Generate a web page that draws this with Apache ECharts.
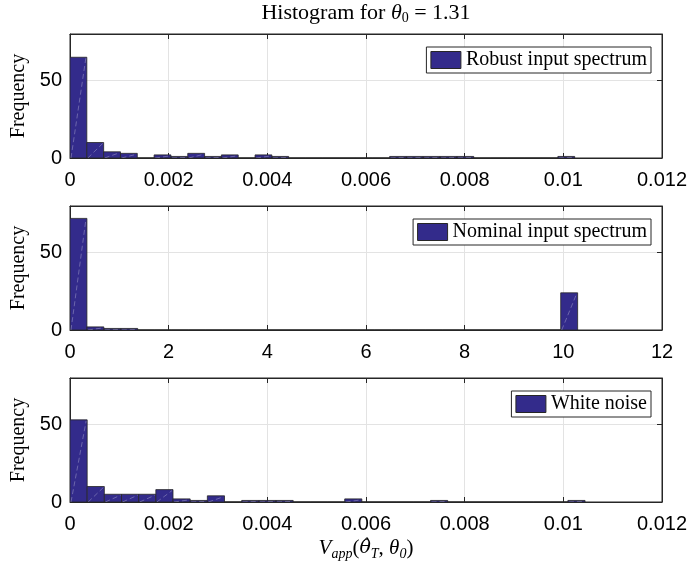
<!DOCTYPE html>
<html><head><meta charset="utf-8">
<script src="https://cdn.jsdelivr.net/npm/echarts@6/dist/echarts.min.js"></script>
<style>html,body{margin:0;padding:0;background:#fff}#c{width:691px;height:569px}</style>
</head><body><div id="c"></div>
<script>
// ---- data ----
const seriesNames = ['Robust input spectrum', 'Nominal input spectrum', 'White noise'];
const robustCounts = [65,10,4,3,0,2,1,3,1,2,0,2,1,0,0,0,0,0,0,1,1,1,1,1,0,0,0,0,0,1];
const robustBinWidth = 0.000341;
const nominalCounts = [72,2,1,1,0,0,0,0,0,0,0,0,0,0,0,0,0,0,0,0,0,0,0,0,0,0,0,0,0,24];
const nominalBinWidth = 0.343;
const whiteCounts = [53,10,5,5,5,8,2,1,4,0,1,1,1,0,0,0,2,0,0,0,0,1,0,0,0,0,0,0,0,1];
const whiteBinWidth = 0.000348;
const xMaxes = [0.012, 12, 0.012];
const xIntervals = [0.002, 2, 0.002];
const yMax = 80;
const yInterval = 50;

const allCounts = [robustCounts, nominalCounts, whiteCounts];
const allWidths = [robustBinWidth, nominalBinWidth, whiteBinWidth];

const BAR = '#332b8b';
const EDGE = '#262626';
const AX = '#262626';
const GRIDC = '#e3e3e3';
const SERIF = '"Liberation Serif", "DejaVu Serif", serif';
const SANS = '"Liberation Sans", Arial, sans-serif';

const tops = [34, 206, 378];
const H = 124;

function binData(counts, w) {
  return counts.map((c, k) => [k * w, (k + 1) * w, c]);
}

function renderItem(params, api) {
  const x0 = api.value(0), x1 = api.value(1), c = api.value(2);
  const p0 = api.coord([x0, 0]), p1 = api.coord([x1, c]);
  const children = [{
    type: 'rect',
    shape: { x: p0[0], y: p1[1], width: p1[0] - p0[0], height: p0[1] - p1[1] },
    style: { fill: BAR, stroke: EDGE, lineWidth: 0.8 }
  }];
  if (c > 0) {
    children.push({
      type: 'line',
      shape: { x1: p0[0] + 1, y1: p0[1], x2: p1[0] - 1, y2: p1[1] + 1 },
      style: { stroke: 'rgba(255,255,255,0.35)', lineWidth: 0.8, lineDash: [5, 3] }
    });
  }
  return { type: 'group', children };
}

const grid = [], xAxis = [], yAxis = [], series = [], legend = [];
for (let i = 0; i < 3; i++) {
  grid.push({ left: 70, width: 592, top: tops[i], height: H, show: true,
    borderColor: AX, borderWidth: 1, backgroundColor: '#fff' });
  const common = { type: 'value', gridIndex: i, min: 0 };
  xAxis.push(Object.assign({}, common, {
    max: xMaxes[i], interval: xIntervals[i], position: 'bottom',
    axisLine: { show: true, onZero: false, lineStyle: { color: AX, width: 1 } },
    axisTick: { show: true, inside: true, length: 5, lineStyle: { color: AX } },
    axisLabel: { show: true, color: '#000', fontFamily: SANS, fontSize: 20, margin: 12,
      showMinLabel: true, showMaxLabel: true },
    splitLine: { show: true, lineStyle: { color: GRIDC, width: 1 } }
  }));
  xAxis.push(Object.assign({}, common, {
    max: xMaxes[i], interval: xIntervals[i], position: 'top',
    axisLine: { show: true, onZero: false, lineStyle: { color: AX, width: 1 } },
    axisTick: { show: true, inside: true, length: 5, lineStyle: { color: AX } },
    axisLabel: { show: false }, splitLine: { show: false }
  }));
  yAxis.push(Object.assign({}, common, {
    max: yMax, interval: yInterval, position: 'left',
    name: 'Frequency', nameLocation: 'middle', nameGap: 41, nameRotate: 90,
    nameTextStyle: { fontFamily: SERIF, fontSize: 20, color: '#000' },
    axisLine: { show: true, onZero: false, lineStyle: { color: AX, width: 1 } },
    axisTick: { show: true, inside: true, length: 5, lineStyle: { color: AX } },
    axisLabel: { show: true, color: '#000', fontFamily: SANS, fontSize: 20, margin: 8,
      showMaxLabel: false },
    splitLine: { show: true, lineStyle: { color: GRIDC, width: 1 } }
  }));
  yAxis.push(Object.assign({}, common, {
    max: yMax, interval: yInterval, position: 'right',
    axisLine: { show: true, onZero: false, lineStyle: { color: AX, width: 1 } },
    axisTick: { show: true, inside: true, length: 5, lineStyle: { color: AX } },
    axisLabel: { show: false }, splitLine: { show: false }
  }));
  series.push({
    type: 'custom', name: seriesNames[i], xAxisIndex: 2 * i, yAxisIndex: 2 * i,
    renderItem, clip: true,
    itemStyle: { color: BAR, borderColor: EDGE, borderWidth: 1 },
    encode: { x: [0, 1], y: 2 },
    data: binData(allCounts[i], allWidths[i]),
    z: 2
  });
  legend.push({
    data: [seriesNames[i]], right: 40, top: tops[i] + 13,
    backgroundColor: '#fff', borderColor: AX, borderWidth: 1,
    padding: [3, 4, 3, 4], itemWidth: 30, itemHeight: 17,
    icon: 'rect', selectedMode: false,
    itemStyle: { color: BAR, borderColor: EDGE, borderWidth: 1 },
    textStyle: { fontFamily: SERIF, fontSize: 20, color: '#000', lineHeight: 20 }
  });
}

const option = {
  animation: false,
  backgroundColor: '#fff',
  grid, xAxis, yAxis, series, legend,
  graphic: [
    {
      type: 'text', x: 366, y: 13, z: 10,
      style: {
        text: '{n|Histogram for }{i|θ}{s|0}{n| = 1.31}',
        align: 'center', verticalAlign: 'middle', fill: '#000',
        rich: {
          n: { fontFamily: SERIF, fontSize: 22, lineHeight: 24, verticalAlign: 'middle' },
          i: { fontFamily: SERIF, fontSize: 22, fontStyle: 'italic', lineHeight: 24, verticalAlign: 'middle' },
          s: { fontFamily: SERIF, fontSize: 14, lineHeight: 13, verticalAlign: 'bottom' }
        }
      }
    },
    {
      type: 'text', x: 366, y: 548, z: 10,
      style: {
        text: '{i|V}{s|app}{n|(}{h|θ̂}{s|T}{n|, }{i|θ}{s|0}{n|)}',
        align: 'center', verticalAlign: 'middle', fill: '#000',
        rich: {
          n: { fontFamily: SERIF, fontSize: 21, lineHeight: 26, verticalAlign: 'middle' },
          i: { fontFamily: SERIF, fontSize: 21, fontStyle: 'italic', lineHeight: 26, verticalAlign: 'middle' },
          h: { fontFamily: '"DejaVu Serif", serif', fontSize: 19, fontStyle: 'italic', lineHeight: 26, verticalAlign: 'middle' },
          s: { fontFamily: SERIF, fontSize: 14, fontStyle: 'italic', lineHeight: 13, verticalAlign: 'bottom' }
        }
      }
    }
  ]
};

const chart = echarts.init(document.getElementById('c'), null, { renderer: 'canvas' });
chart.setOption(option);
</script>
</body></html>
